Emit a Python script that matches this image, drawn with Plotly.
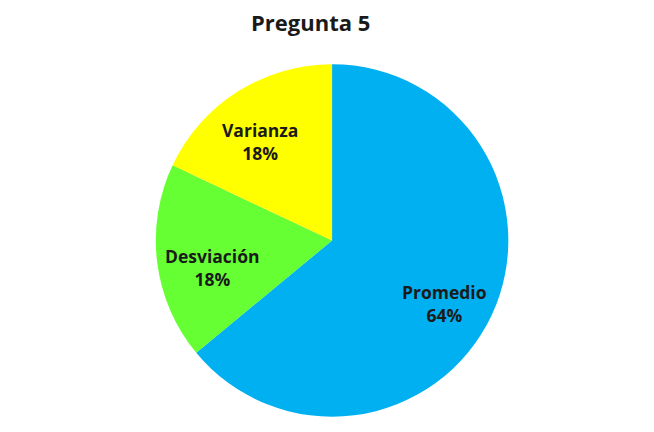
import plotly.graph_objects as go

title_text = "Pregunta 5"
labels = ["Promedio", "Desviación", "Varianza"]
values = [64, 18, 18]
colors = ["#00B0F0", "#66FF33", "#FFFF00"]

# label anchor positions (pixels in the figure), Excel "best fit" style
label_pos_px = [(436, 295), (204, 259), (252, 134)]

W, H = 654, 432
total = sum(values)

fig = go.Figure(go.Pie(
    labels=labels,
    values=values,
    sort=False,
    direction="clockwise",
    rotation=0,
    marker=dict(colors=colors, line=dict(width=0)),
    textinfo="none",
    domain=dict(x=[0.226, 0.765], y=[0.050, 0.874]),
    showlegend=False,
    hoverinfo="label+percent",
))

annotations = [dict(
    text=f"<b>{title_text}</b>",
    x=302 / W, y=1 - 14 / H, xref="paper", yref="paper",
    xanchor="center", yanchor="middle", showarrow=False,
    font=dict(family="Open Sans", size=22, color="#1a1a1a"),
)]
for lab, val, (px, py) in zip(labels, values, label_pos_px):
    annotations.append(dict(
        text=f"<b>{lab}<br>{round(100 * val / total)}%</b>",
        x=px / W, y=1 - py / H, xref="paper", yref="paper",
        xanchor="center", yanchor="middle", showarrow=False,
        font=dict(family="Open Sans", size=17.5, color="#1a1a1a"),
    ))

fig.update_layout(
    width=W, height=H,
    margin=dict(l=0, r=0, t=0, b=0),
    paper_bgcolor="white",
    annotations=annotations,
)

fig.write_html("out.html")
